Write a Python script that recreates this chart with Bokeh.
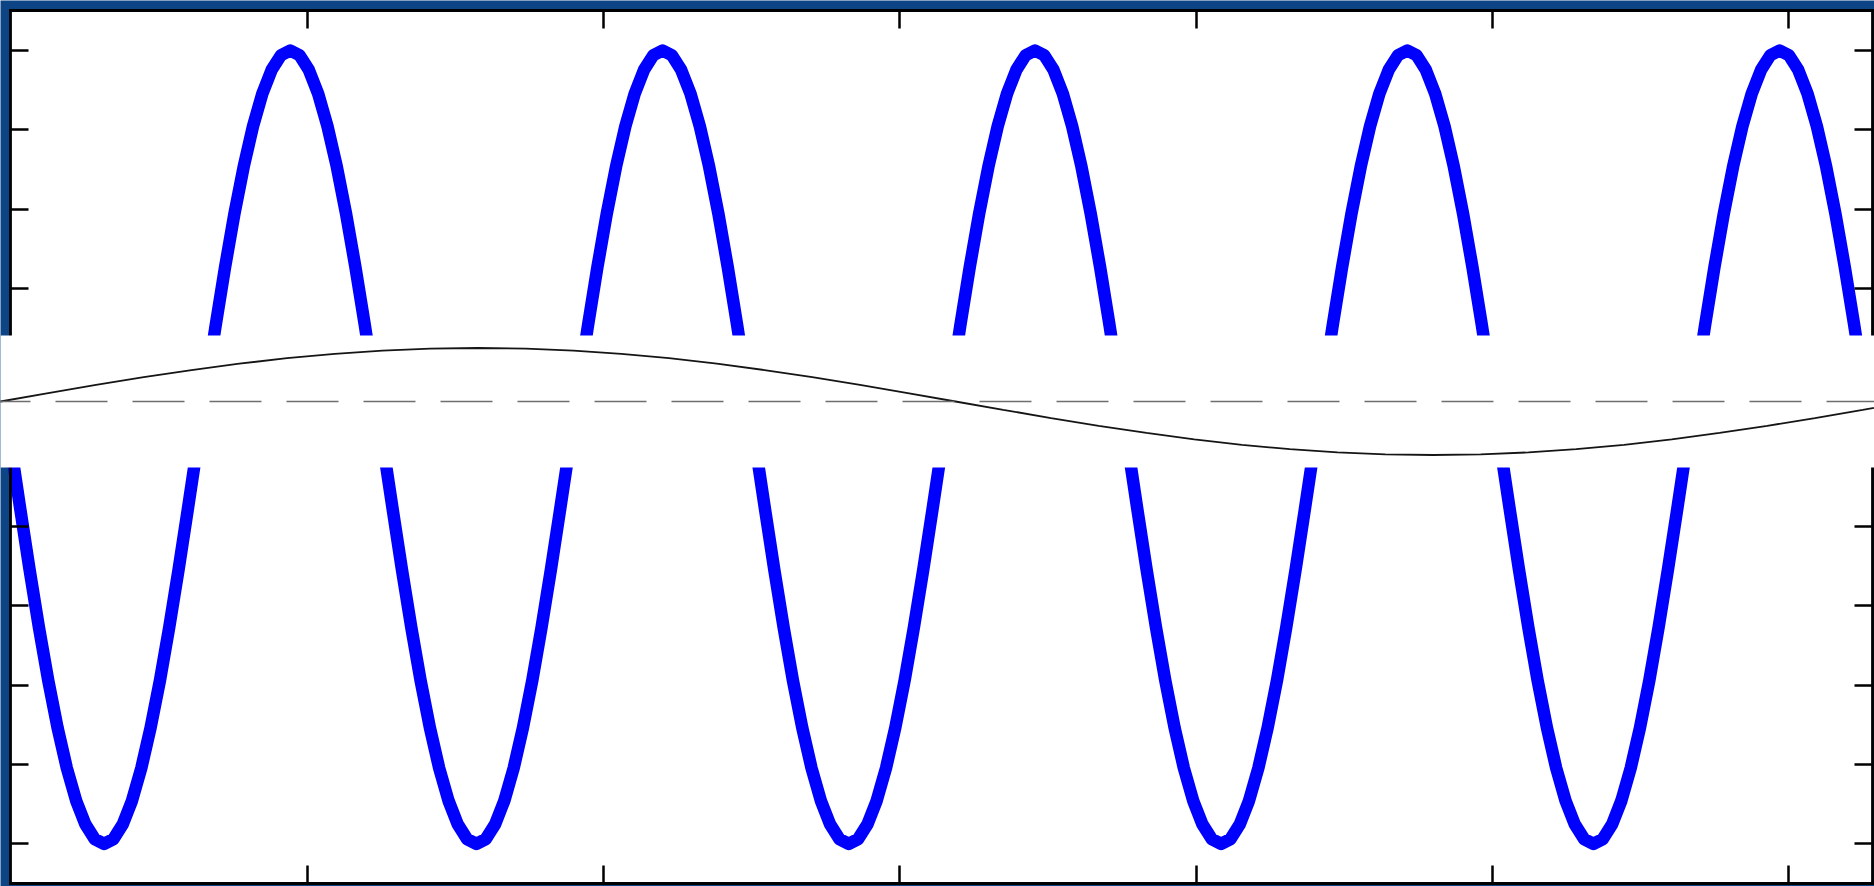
from bokeh.plotting import figure
from bokeh.models import (Range1d, LinearAxis, FixedTicker, BoxAnnotation, Span,
                          CustomJSTickFormatter)
from bokeh.embed import file_html
from bokeh.resources import INLINE

# ---- data: thick blue curve (main axes) ----
blue_x = [0.0000, 0.0314, 0.0628, 0.0942, 0.1257, 0.1571, 0.1885, 0.2199, 0.2513, 0.2827,
          0.3142, 0.3456, 0.3770, 0.4084, 0.4398, 0.4712, 0.5027, 0.5341, 0.5655, 0.5969,
          0.6283, 0.6597, 0.6912, 0.7226, 0.7540, 0.7854, 0.8168, 0.8482, 0.8796, 0.9111,
          0.9425, 0.9739, 1.0053, 1.0367, 1.0681, 1.0996, 1.1310, 1.1624, 1.1938, 1.2252,
          1.2566, 1.2881, 1.3195, 1.3509, 1.3823, 1.4137, 1.4451, 1.4765, 1.5080, 1.5394,
          1.5708, 1.6022, 1.6336, 1.6650, 1.6965, 1.7279, 1.7593, 1.7907, 1.8221, 1.8535,
          1.8850, 1.9164, 1.9478, 1.9792, 2.0106, 2.0420, 2.0735, 2.1049, 2.1363, 2.1677,
          2.1991, 2.2305, 2.2619, 2.2934, 2.3248, 2.3562, 2.3876, 2.4190, 2.4504, 2.4819,
          2.5133, 2.5447, 2.5761, 2.6075, 2.6389, 2.6704, 2.7018, 2.7332, 2.7646, 2.7960,
          2.8274, 2.8588, 2.8903, 2.9217, 2.9531, 2.9845, 3.0159, 3.0473, 3.0788, 3.1102,
          3.1416, 3.1730, 3.2044, 3.2358, 3.2673, 3.2987, 3.3301, 3.3615, 3.3929, 3.4243,
          3.4558, 3.4872, 3.5186, 3.5500, 3.5814, 3.6128, 3.6442, 3.6757, 3.7071, 3.7385,
          3.7699, 3.8013, 3.8327, 3.8642, 3.8956, 3.9270, 3.9584, 3.9898, 4.0212, 4.0527,
          4.0841, 4.1155, 4.1469, 4.1783, 4.2097, 4.2412, 4.2726, 4.3040, 4.3354, 4.3668,
          4.3982, 4.4296, 4.4611, 4.4925, 4.5239, 4.5553, 4.5867, 4.6181, 4.6496, 4.6810,
          4.7124, 4.7438, 4.7752, 4.8066, 4.8381, 4.8695, 4.9009, 4.9323, 4.9637, 4.9951,
          5.0265, 5.0580, 5.0894, 5.1208, 5.1522, 5.1836, 5.2150, 5.2465, 5.2779, 5.3093,
          5.3407, 5.3721, 5.4035, 5.4350, 5.4664, 5.4978, 5.5292, 5.5606, 5.5920, 5.6235,
          5.6549, 5.6863, 5.7177, 5.7491, 5.7805, 5.8119, 5.8434, 5.8748, 5.9062, 5.9376,
          5.9690, 6.0004, 6.0319, 6.0633, 6.0947, 6.1261, 6.1575, 6.1889, 6.2204, 6.2518,
          6.2832]
blue_y = [0.000, -0.156, -0.309, -0.454, -0.588, -0.707, -0.809, -0.891, -0.951, -0.988,
          -1.000, -0.988, -0.951, -0.891, -0.809, -0.707, -0.588, -0.454, -0.309, -0.156,
          0.000, 0.156, 0.309, 0.454, 0.588, 0.707, 0.809, 0.891, 0.951, 0.988,
          1.000, 0.988, 0.951, 0.891, 0.809, 0.707, 0.588, 0.454, 0.309, 0.156,
          0.000, -0.156, -0.309, -0.454, -0.588, -0.707, -0.809, -0.891, -0.951, -0.988,
          -1.000, -0.988, -0.951, -0.891, -0.809, -0.707, -0.588, -0.454, -0.309, -0.156,
          0.000, 0.156, 0.309, 0.454, 0.588, 0.707, 0.809, 0.891, 0.951, 0.988,
          1.000, 0.988, 0.951, 0.891, 0.809, 0.707, 0.588, 0.454, 0.309, 0.156,
          0.000, -0.156, -0.309, -0.454, -0.588, -0.707, -0.809, -0.891, -0.951, -0.988,
          -1.000, -0.988, -0.951, -0.891, -0.809, -0.707, -0.588, -0.454, -0.309, -0.156,
          0.000, 0.156, 0.309, 0.454, 0.588, 0.707, 0.809, 0.891, 0.951, 0.988,
          1.000, 0.988, 0.951, 0.891, 0.809, 0.707, 0.588, 0.454, 0.309, 0.156,
          0.000, -0.156, -0.309, -0.454, -0.588, -0.707, -0.809, -0.891, -0.951, -0.988,
          -1.000, -0.988, -0.951, -0.891, -0.809, -0.707, -0.588, -0.454, -0.309, -0.156,
          0.000, 0.156, 0.309, 0.454, 0.588, 0.707, 0.809, 0.891, 0.951, 0.988,
          1.000, 0.988, 0.951, 0.891, 0.809, 0.707, 0.588, 0.454, 0.309, 0.156,
          0.000, -0.156, -0.309, -0.454, -0.588, -0.707, -0.809, -0.891, -0.951, -0.988,
          -1.000, -0.988, -0.951, -0.891, -0.809, -0.707, -0.588, -0.454, -0.309, -0.156,
          0.000, 0.156, 0.309, 0.454, 0.588, 0.707, 0.809, 0.891, 0.951, 0.988,
          1.000, 0.988, 0.951, 0.891, 0.809, 0.707, 0.588, 0.454, 0.309, 0.156,
          0.000]

# ---- data: thin black curve in the white middle strip ----
black_x = [0.0000, 0.1571, 0.3142, 0.4712, 0.6283, 0.7854, 0.9425, 1.0996, 1.2566, 1.4137,
           1.5708, 1.7279, 1.8850, 2.0420, 2.1991, 2.3562, 2.5133, 2.6704, 2.8274, 2.9845,
           3.1416, 3.2987, 3.4558, 3.6128, 3.7699, 3.9270, 4.0841, 4.2412, 4.3982, 4.5553,
           4.7124, 4.8695, 5.0265, 5.1836, 5.3407, 5.4978, 5.6549, 5.8119, 5.9690, 6.1261,
           6.2832]
black_y = [0.000, 0.156, 0.309, 0.454, 0.588, 0.707, 0.809, 0.891, 0.951, 0.988,
           1.000, 0.988, 0.951, 0.891, 0.809, 0.707, 0.588, 0.454, 0.309, 0.156,
           0.000, -0.156, -0.309, -0.454, -0.588, -0.707, -0.809, -0.891, -0.951, -0.988,
           -1.000, -0.988, -0.951, -0.891, -0.809, -0.707, -0.588, -0.454, -0.309, -0.156,
           0.000]

x_ticks = [1, 2, 3, 4, 5, 6]
y_ticks = [-1.0, -0.8, -0.6, -0.4, -0.2, 0.0, 0.2, 0.4, 0.6, 0.8, 1.0]

# axes box limits
XLIM = (0.0, 6.2832)
YLIM = (-1.1, 1.1)

BG = "#0c4485"

p = figure(width=1874, height=886, output_backend="svg", toolbar_location=None,
           x_axis_type=None, y_axis_type=None, min_border=0,
           x_range=Range1d(-0.0354, 6.2892), y_range=Range1d(-1.1074, 1.1260))
p.styles = {"position": "absolute", "left": "0px", "top": "0px"}
p.outline_line_color = None
p.background_fill_color = BG
p.border_fill_color = BG
p.extra_x_ranges = {"strip": Range1d(0.0, 6.1648)}
p.extra_y_ranges = {"strip": Range1d(-9.065, 7.495)}

# white axes box
p.add_layout(BoxAnnotation(left=XLIM[0], right=XLIM[1], bottom=YLIM[0], top=YLIM[1],
                           fill_color="white", fill_alpha=1, line_color=None, level="image"))

p.line(blue_x, blue_y, line_color="#0000ff", line_width=12.5, line_join="round")

blank = CustomJSTickFormatter(code="return ''")


def make_axis(ticks, loc, bounds):
    ax = LinearAxis(ticker=FixedTicker(ticks=ticks), fixed_location=loc, bounds=bounds,
                    formatter=blank)
    ax.axis_line_color = "black"
    ax.axis_line_width = 2.8
    ax.axis_line_cap = "square"
    ax.major_tick_line_color = "black"
    ax.major_tick_line_width = 2.5
    ax.major_tick_in = 18
    ax.major_tick_out = 0
    ax.minor_tick_line_color = None
    ax.major_label_text_color = None
    return ax


p.add_layout(make_axis(x_ticks, YLIM[0], XLIM), "below")
p.add_layout(make_axis(x_ticks, YLIM[1], XLIM), "above")
p.add_layout(make_axis(y_ticks, XLIM[0], YLIM), "left")
p.add_layout(make_axis(y_ticks, XLIM[1], YLIM), "right")

# white middle strip (overlaid picture)
p.add_layout(BoxAnnotation(bottom=-1.2336, top=1.2336, y_range_name="strip",
                           fill_color="white", fill_alpha=1, line_color=None,
                           level="annotation"))
p.add_layout(Span(location=0, dimension="width", y_range_name="strip", level="overlay",
                  line_color="#6e6e6e", line_width=1.3, line_dash="52 25",
                  line_dash_offset=22))
p.line(black_x, black_y, x_range_name="strip", y_range_name="strip", level="overlay",
       line_color="#151515", line_width=1.8)

open("out.html", "w").write(file_html(p, INLINE))
